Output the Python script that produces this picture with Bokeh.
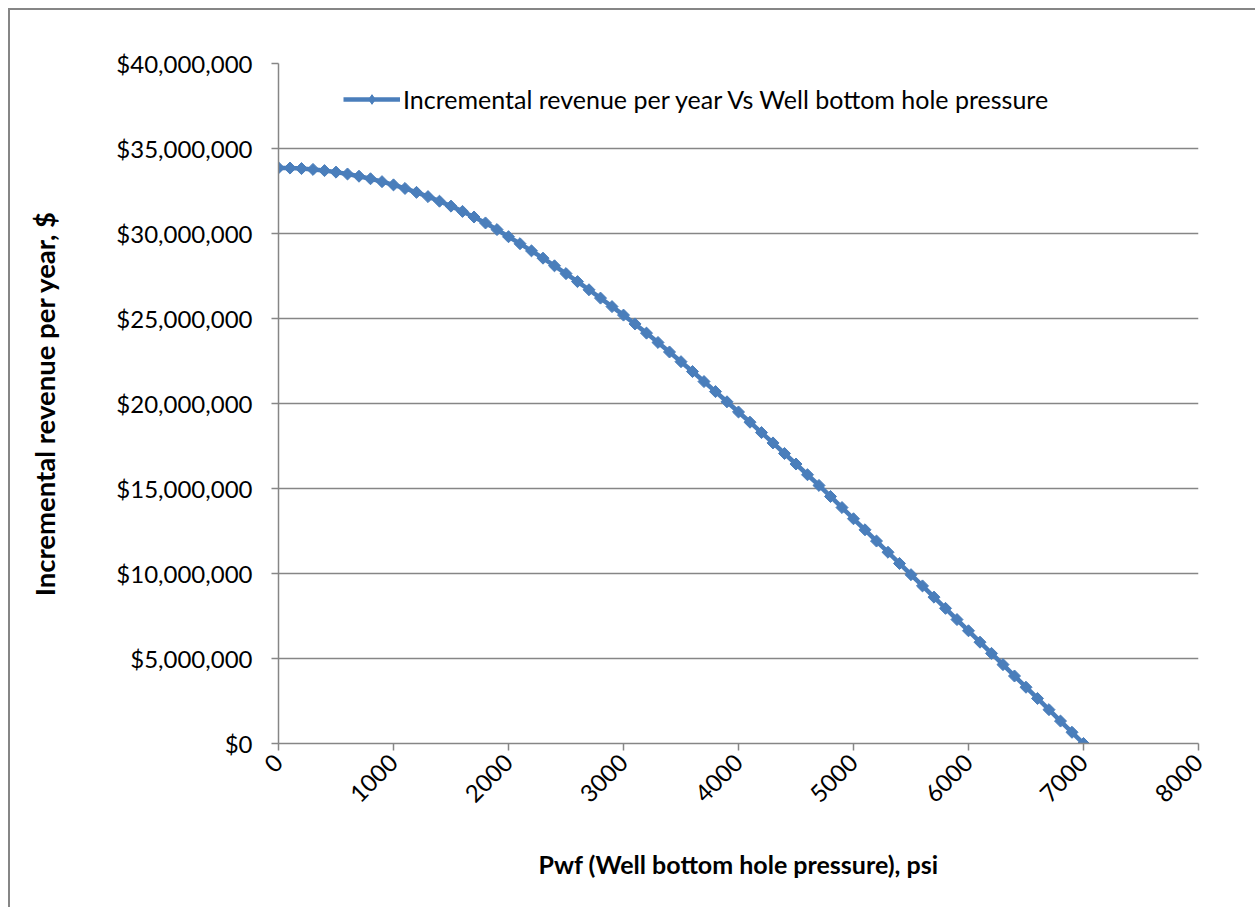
import math
from bokeh.plotting import figure
from bokeh.models import NumeralTickFormatter, FixedTicker, Range1d, LegendItem, Legend
from bokeh.embed import file_html
from bokeh.resources import INLINE

# Well bottom hole pressure, psi
pwf = [0, 100, 200, 300, 400, 500, 600, 700, 800, 900,
       1000, 1100, 1200, 1300, 1400, 1500, 1600, 1700, 1800, 1900,
       2000, 2100, 2200, 2300, 2400, 2500, 2600, 2700, 2800, 2900,
       3000, 3100, 3200, 3300, 3400, 3500, 3600, 3700, 3800, 3900,
       4000, 4100, 4200, 4300, 4400, 4500, 4600, 4700, 4800, 4900,
       5000, 5100, 5200, 5300, 5400, 5500, 5600, 5700, 5800, 5900,
       6000, 6100, 6200, 6300, 6400, 6500, 6600, 6700, 6800, 6900,
       7000]

# Incremental revenue per year, $
revenue = [33860000, 33850000, 33820000, 33770000, 33700000, 33610000, 33500000, 33370000, 33220000, 33050000,
           32860000, 32650000, 32420000, 32170000, 31900000, 31610000, 31300000, 30970000, 30620000, 30230000,
           29810000, 29400000, 28980000, 28550000, 28100000, 27640000, 27170000, 26690000, 26200000, 25700000,
           25200000, 24680000, 24140000, 23590000, 23030000, 22460000, 21880000, 21290000, 20700000, 20100000,
           19500000, 18900000, 18290000, 17680000, 17060000, 16440000, 15810000, 15180000, 14530000, 13880000,
           13220000, 12570000, 11910000, 11250000, 10590000, 9930000, 9270000, 8610000, 7950000, 7290000,
           6630000, 5960000, 5300000, 4640000, 3970000, 3310000, 2650000, 1990000, 1320000, 660000,
           0]

x_ticks = [0, 1000, 2000, 3000, 4000, 5000, 6000, 7000, 8000]
y_ticks = [0, 5000000, 10000000, 15000000, 20000000, 25000000, 30000000, 35000000, 40000000]

series_name = "Incremental revenue per year Vs Well bottom hole pressure"
x_title = "Pwf (Well bottom hole pressure), psi"
y_title = "Incremental revenue per year, $"

BLUE = "#4A7EBB"
GRAY = "#868686"
FONT = "Lato"

p = figure(frame_width=920, frame_height=680,
           x_range=Range1d(0, 8000), y_range=Range1d(0, 40000000),
           output_backend="svg", toolbar_location=None,
           min_border_left=268, min_border_top=53, min_border_right=57, min_border_bottom=164)
p.styles = {"margin-left": "8px", "margin-top": "8px",
            "border-top": "2px solid #868686", "border-left": "2px solid #868686"}

p.background_fill_color = "white"
p.border_fill_color = "white"
p.outline_line_color = None
p.xgrid.visible = False
p.ygrid.grid_line_color = GRAY
p.ygrid.grid_line_width = 1.5

for ax in (p.xaxis[0], p.yaxis[0]):
    ax.axis_line_color = GRAY
    ax.axis_line_width = 1.5
    ax.major_tick_line_color = GRAY
    ax.major_tick_line_width = 1.5
    ax.major_tick_in = 0
    ax.major_tick_out = 7
    ax.minor_tick_line_color = None
    ax.major_label_text_font = FONT
    ax.major_label_text_font_size = "24px"
    ax.major_label_text_color = "black"
    ax.axis_label_text_font = FONT
    ax.axis_label_text_font_style = "bold"
    ax.axis_label_text_color = "black"

p.xaxis.axis_label_text_font_size = "25px"
p.yaxis.axis_label_text_font_size = "27.5px"
p.xaxis.ticker = FixedTicker(ticks=x_ticks)
p.yaxis.ticker = FixedTicker(ticks=y_ticks)
p.yaxis.formatter = NumeralTickFormatter(format="$0,0")
p.xaxis.major_label_orientation = math.pi / 4
p.yaxis.major_label_standoff = 19
p.xaxis.major_label_standoff = 8
p.xaxis.axis_label = x_title
p.yaxis.axis_label = y_title
p.yaxis.axis_label_standoff = 52
p.xaxis.axis_label_standoff = 36

line_r = p.line(pwf, revenue, line_color=BLUE, line_width=4.5)
p.scatter(pwf, revenue, marker="square", angle=math.pi / 4, size=8.5,
          fill_color=BLUE, line_color=BLUE)
# legend sample marker (a single NaN point, so nothing is drawn on the chart itself)
key_r = p.scatter(x=[float("nan")], y=[float("nan")], marker="diamond", size=15,
                  fill_color=BLUE, line_color=BLUE)

lg = Legend(items=[LegendItem(label=series_name, renderers=[line_r, key_r])])
lg.location = (65, 629)
lg.border_line_color = None
lg.background_fill_alpha = 0
lg.padding = 0
lg.margin = 0
lg.spacing = 0
lg.glyph_width = 57
lg.glyph_height = 24
lg.label_height = 24
lg.label_standoff = 3
lg.label_text_font = FONT
lg.label_text_font_size = "25px"
lg.label_text_color = "black"
p.add_layout(lg, "center")

open("out.html", "w").write(file_html(p, INLINE))
